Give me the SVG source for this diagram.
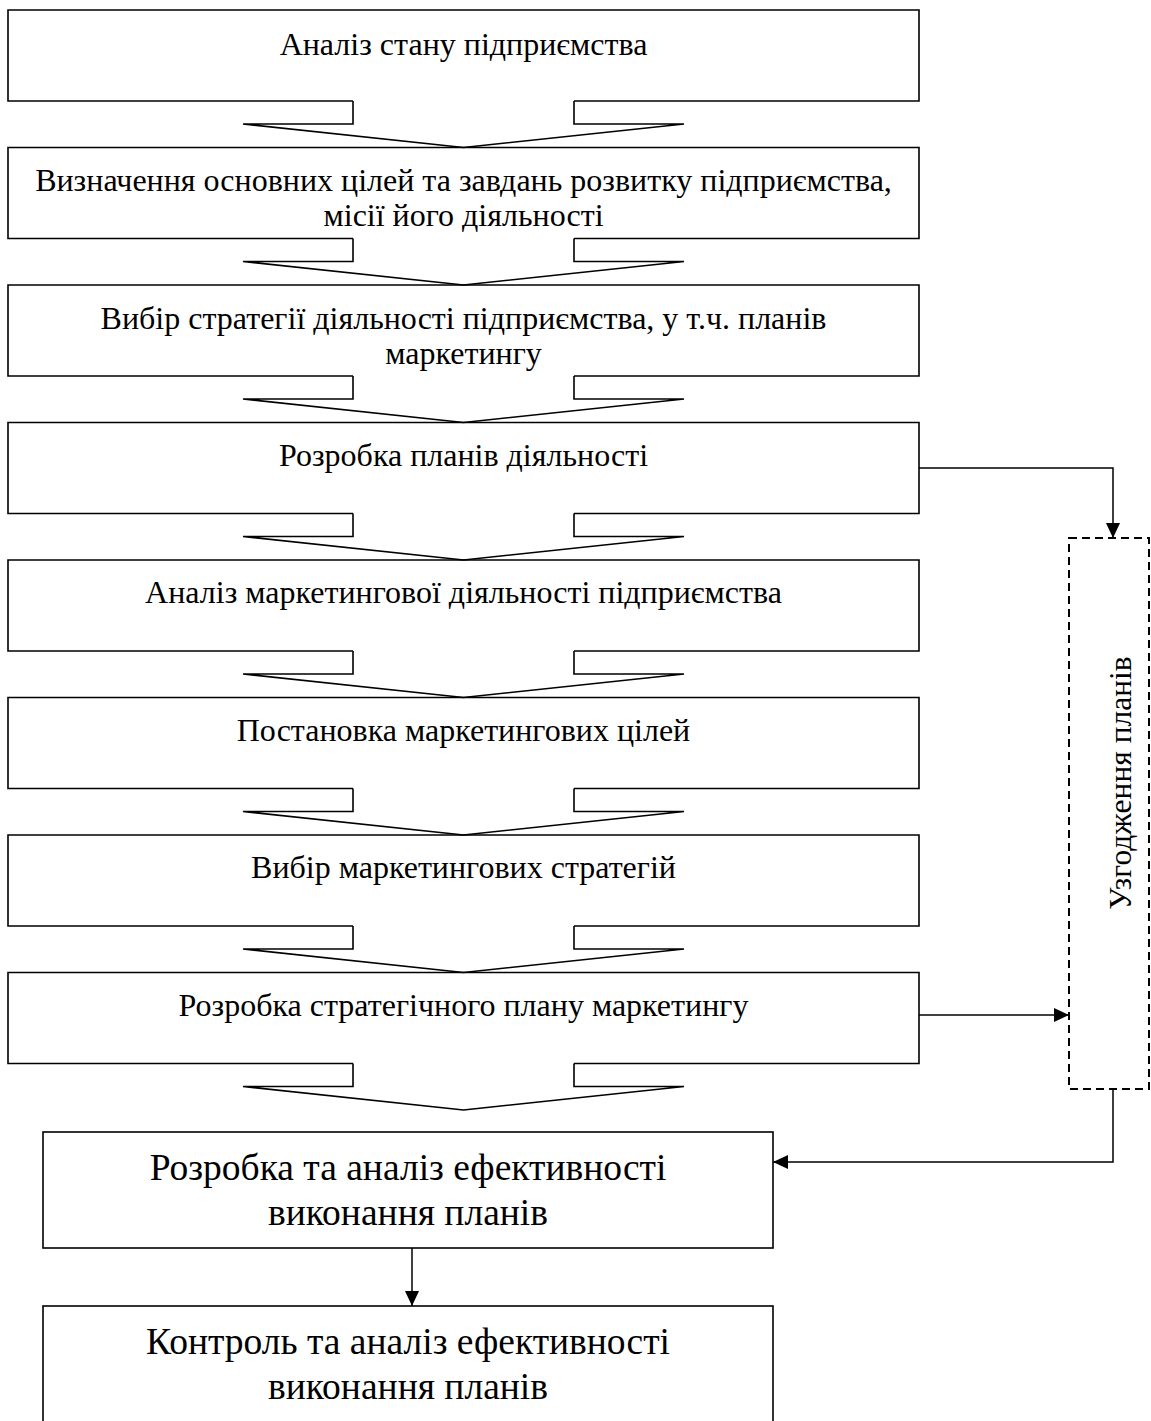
<svg xmlns="http://www.w3.org/2000/svg" width="1151" height="1421" viewBox="0 0 1151 1421">
<style>
.box{fill:none;stroke:#000;stroke-width:1.6}
.ba{fill:none;stroke:#000;stroke-width:1.6;stroke-linejoin:miter}
.t{font-family:"Liberation Serif","Times New Roman",serif;font-size:32px;fill:#000;text-anchor:middle}
.tb{font-family:"Liberation Serif","Times New Roman",serif;font-size:37.5px;fill:#000;text-anchor:middle}
.tr{font-family:"Liberation Serif","Times New Roman",serif;font-size:31.5px;fill:#000;text-anchor:middle}
.ln{fill:none;stroke:#000;stroke-width:1.5}
.dash{fill:none;stroke:#000;stroke-width:2;stroke-dasharray:8 5}
</style>
<defs>
<marker id="ah" markerUnits="userSpaceOnUse" markerWidth="16" markerHeight="16" refX="15" refY="7" orient="auto">
<path d="M0,0 L15,7 L0,14 Z" fill="#000"/>
</marker>
</defs>
<rect width="1151" height="1421" fill="#fff"/>

<g id="n1"><path class="box" d="M353,101 H8 V10 H919 V101 H574"/><text class="t" x="463.5" y="55">Аналіз стану підприємства</text></g>
<g id="n2"><path class="box" d="M353,238.5 H8 V147.5 H919 V238.5 H574"/><text class="t" x="463.5" y="191">Визначення основних цілей та завдань розвитку підприємства,</text><text class="t" x="463.5" y="226">місії його діяльності</text></g>
<g id="n3"><path class="box" d="M353,376 H8 V285 H919 V376 H574"/><text class="t" x="463.5" y="329">Вибір стратегії діяльності підприємства, у т.ч. планів</text><text class="t" x="463.5" y="364">маркетингу</text></g>
<g id="n4"><path class="box" d="M353,513.5 H8 V422.5 H919 V513.5 H574"/><text class="t" x="463.5" y="466">Розробка планів діяльності</text></g>
<g id="n5"><path class="box" d="M353,651 H8 V560 H919 V651 H574"/><text class="t" x="463.5" y="603">Аналіз маркетингової діяльності підприємства</text></g>
<g id="n6"><path class="box" d="M353,788.5 H8 V697.5 H919 V788.5 H574"/><text class="t" x="463.5" y="741">Постановка маркетингових цілей</text></g>
<g id="n7"><path class="box" d="M353,926 H8 V835 H919 V926 H574"/><text class="t" x="463.5" y="878">Вибір маркетингових стратегій</text></g>
<g id="n8"><path class="box" d="M353,1063.5 H8 V972.5 H919 V1063.5 H574"/><text class="t" x="463.5" y="1016">Розробка стратегічного плану маркетингу</text></g>
<g id="n9"><rect class="box" x="43" y="1132" width="730" height="116"/><text class="tb" x="408" y="1180">Розробка та аналіз ефективності</text><text class="tb" x="408" y="1225">виконання планів</text></g>
<g id="n10"><rect class="box" x="43" y="1306" width="730" height="130"/><text class="tb" x="408" y="1354">Контроль та аналіз ефективності</text><text class="tb" x="408" y="1399">виконання планів</text></g>
<g id="n11"><rect class="dash" x="1069" y="538" width="80" height="551"/><text class="tr" transform="translate(1131,783) rotate(-90)">Узгодження планів</text></g>

<g id="connectors">
<path class="ba" d="M353,101 V124 H243 L463.5,147.5 L684,124 H574 V101"/>
<path class="ba" d="M353,238.5 V261.5 H243 L463.5,285 L684,261.5 H574 V238.5"/>
<path class="ba" d="M353,376 V399 H243 L463.5,422.5 L684,399 H574 V376"/>
<path class="ba" d="M353,513.5 V536.5 H243 L463.5,560 L684,536.5 H574 V513.5"/>
<path class="ba" d="M353,651 V674 H243 L463.5,697.5 L684,674 H574 V651"/>
<path class="ba" d="M353,788.5 V811.5 H243 L463.5,835 L684,811.5 H574 V788.5"/>
<path class="ba" d="M353,926 V949 H243 L463.5,972.5 L684,949 H574 V926"/>
<path class="ba" d="M353,1063.5 V1086.5 H243 L463.5,1110 L684,1086.5 H574 V1063.5"/>
<path class="ln" d="M919,468 H1113 V538" marker-end="url(#ah)"/>
<path class="ln" d="M919,1015 H1069" marker-end="url(#ah)"/>
<path class="ln" d="M1113,1089 V1162 H773" marker-end="url(#ah)"/>
<path class="ln" d="M412,1248 V1306" marker-end="url(#ah)"/>
</g>
</svg>
